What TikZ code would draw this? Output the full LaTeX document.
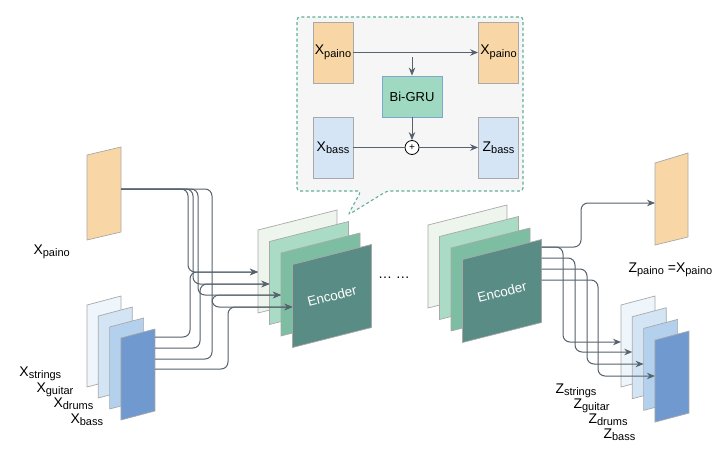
\documentclass[tikz,border=0pt]{standalone}
\usepackage{fontspec}
\setmainfont{Liberation Sans}
\usetikzlibrary{arrows.meta}

\definecolor{wirec}{HTML}{56626D}
\definecolor{edgec}{HTML}{A9A9A9}
\definecolor{orangec}{HTML}{F8D6A5}
\definecolor{lblue}{HTML}{D5E5F5}
\definecolor{mint}{HTML}{9FD9C1}
\definecolor{gruedge}{HTML}{7FA6CF}
\definecolor{green1}{HTML}{EEF5EC}
\definecolor{green2}{HTML}{A9DBC5}
\definecolor{green3}{HTML}{7DBEA2}
\definecolor{green4}{HTML}{588C84}
\definecolor{blue1}{HTML}{EEF5FB}
\definecolor{blue2}{HTML}{D3E4F4}
\definecolor{blue3}{HTML}{B3D1EC}
\definecolor{blue4}{HTML}{7099CF}
\definecolor{dashc}{HTML}{5FB09E}
\definecolor{insetc}{HTML}{F6F6F6}

\newcommand{\lbl}[2]{#1\raisebox{-2.5pt}{\fontsize{11}{11}\selectfont #2}}

\begin{document}
\begin{tikzpicture}[x=1pt, y=-1pt, line width=1pt, font=\fontsize{14}{16}\selectfont,
    wire/.style = {draw=wirec, rounded corners=7pt, -{Stealth[length=8pt,width=6.5pt]}},
    plain/.style = {draw=wirec},
    layer/.style = {draw=edgec, line width=0.7pt},
    ibox/.style = {draw=edgec, line width=0.8pt, inner sep=0pt, minimum width=40pt, minimum height=61pt},
    lab/.style = {anchor=base west, inner sep=0pt}]
    \fill[white] (0,0) rectangle (725,461);

    % inputs
    \filldraw[layer, fill=orangec] (87,155) -- (121,147) -- (121,232) -- (87,240) -- cycle;
    \coordinate (pl) at (121,189);
    \foreach \c [count=\i] in {blue1,blue2,blue3,blue4}
        \filldraw[layer, fill=\c] ({87+11.3*(\i-1)},{387+11*(\i-1)}) -- ++(34,-9) -- ++(0,-82) -- ++(-34,9) -- cycle;
    \foreach \y [count=\i] in {337,348,359,369}
        \coordinate (xs-\i) at (155,\y);

    \node[lab] (lxp) at (33,254) {\lbl{X}{paino}};
    \node[lab] (lxs) at (19,376) {\lbl{X}{strings}};
    \node[lab] (lxg) at (36,392) {\lbl{X}{guitar}};
    \node[lab] (lxd) at (53,407) {\lbl{X}{drums}};
    \node[lab] (lxb) at (70,423) {\lbl{X}{bass}};

    % encoders
    \foreach \c [count=\i] in {green1,green2,green3,green4}
        \filldraw[layer, fill=\c] ({258+11.5*(\i-1)},{313+11.5*(\i-1)}) -- ++(79,-20) -- ++(0,-83) -- ++(-79,20) -- cycle;
    \foreach \y [count=\i] in {272,284,295,307}
        \coordinate (e1-\i) at ({258+11.5*(\i-1)},\y);
    \node[rotate=14, text=white, font=\fontsize{13.5}{15}\selectfont] (enc1) at (332,296) {Encoder};

    \node (dots) at (394,278) {\dots\ \dots};

    \foreach \c [count=\i] in {green1,green2,green3,green4}
        \filldraw[layer, fill=\c] ({428+11.5*(\i-1)},{308+11.5*(\i-1)}) -- ++(79,-20) -- ++(0,-83) -- ++(-79,20) -- cycle;
    \foreach \y [count=\i] in {247,258,269,280}
        \coordinate (o-\i) at (541.5,\y);
    \node[rotate=14, text=white, font=\fontsize{13.5}{15}\selectfont] (enc2) at (502,292) {Encoder};

    % outputs
    \filldraw[layer, fill=orangec] (655,163) -- (688,153) -- (688,237) -- (655,245) -- cycle;
    \coordinate (zp) at (655,203);
    \foreach \c [count=\i] in {blue1,blue2,blue3,blue4}
        \filldraw[layer, fill=\c] ({621+11.3*(\i-1)},{387+11.7*(\i-1)}) -- ++(34,-9) -- ++(0,-82) -- ++(-34,9) -- cycle;
    \foreach \y [count=\i] in {342,352,364,376}
        \coordinate (z-\i) at ({621+11.3*(\i-1)},\y);

    \node[lab] (lzp) at (628,272) {\lbl{Z}{paino} =\lbl{X}{paino}};
    \node[lab] (lzs) at (555,393) {\lbl{Z}{strings}};
    \node[lab] (lzg) at (573,408) {\lbl{Z}{guitar}};
    \node[lab] (lzd) at (588,423) {\lbl{Z}{drums}};
    \node[lab] (lzb) at (603,438) {\lbl{Z}{bass}};

    % connectors
    \foreach \dx [count=\i] in {67,72,77,91}
        \draw[wire] (pl) -- ++(\dx,0) |- (e1-\i);
    \foreach \dx [count=\i] in {35,45,57,73}
        \draw[wire] (xs-\i) -- ++(\dx,0) |- (e1-\i);
    \draw[wire] (o-1) -- ++(39.5,0) |- (zp);
    \foreach \dx [count=\i] in {21.5,33.5,45.5,56.5}
        \draw[wire] (o-\i) -- ++(\dx,0) |- (z-\i);

    % zoomed view
    \filldraw[draw=dashc, fill=insetc, line width=1.1pt, dash pattern=on 3pt off 2.5pt, rounded corners=3pt]
        (361,191) -- (297,191) -- (297,17) -- (523,17) -- (523,191) -- (387,191) -- (348,215) -- cycle;
    \node[ibox, fill=orangec] (xp) at (333,52.5) {\lbl{X}{paino}};
    \node[ibox, fill=orangec] (xq) at (498.5,52.5) {\lbl{X}{paino}};
    \node[ibox, fill=mint, draw=gruedge, minimum width=60pt, minimum height=41pt, font=\fontsize{13}{15}\selectfont] (gru) at (412,96.5) {Bi-GRU};
    \node[ibox, fill=lblue] (xb) at (333,147.5) {\lbl{X}{bass}};
    \node[ibox, fill=lblue] (zb) at (498.5,147.5) {\lbl{Z}{bass}};
    \node[circle, draw=black, fill=white, line width=0.8pt, minimum size=14pt, inner sep=0pt, font=\fontsize{10}{10}\selectfont] (add) at (412,147.5) {+};
    \coordinate (tap) at (412,57);

    \draw[wire] (xp) -- (xq);
    \draw[wire] (tap) -- (gru);
    \draw[wire] (gru) -- (add);
    \draw[plain] (xb) -- (add);
    \draw[wire] (add) -- (zb);
\end{tikzpicture}
\end{document}
